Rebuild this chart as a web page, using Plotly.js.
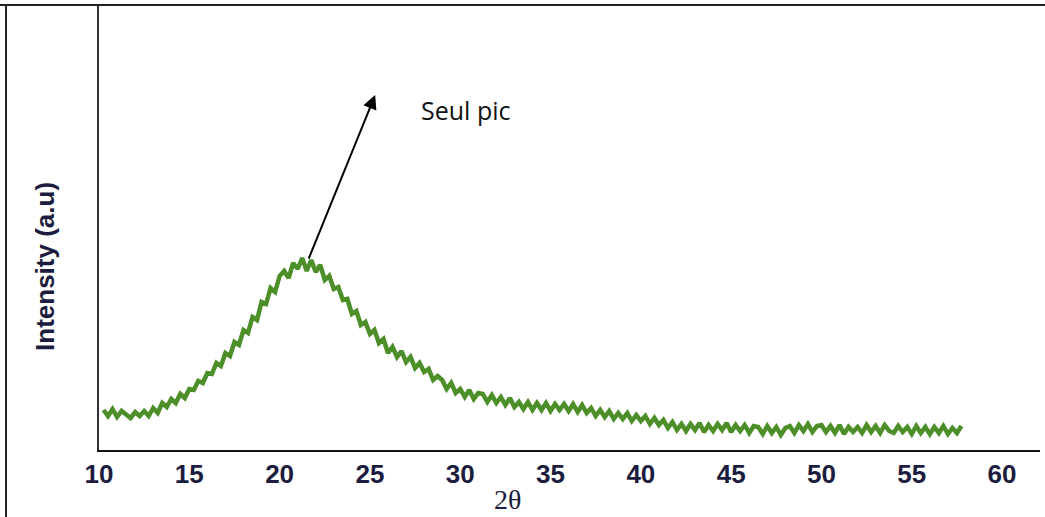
<!DOCTYPE html>
<html>
<head>
<meta charset="utf-8">
<script src="https://cdn.plot.ly/plotly-3.0.1.min.js"></script>
<style>
  html, body { margin: 0; padding: 0; background: #ffffff; }
  #chart { width: 1045px; height: 517px; }
</style>
</head>
<body>
<div id="chart"></div>
<script>
// ---- data (2θ scan, arbitrary intensity) ----
const angleStart = 10.25;   // first sampled 2θ (degrees)
const angleStep = 0.25;     // sampling step (degrees)
const intensity = [
  40,34,41,33,39,36,32,38,34,
  39,34,42,37,47,43,
  51,47,56,52,61,
  60,69,67,77,
  76,87,84,97,94,
  108,105,120,117,
  133,130,148,
  146,162,158,174,
  179,172,187,181,
  192,179,190,
  178,185,170,
  174,161,163,
  150,151,136,
  139,125,128,
  116,120,107,
  111,97,103,
  93,99,88,
  93,82,87,
  78,81,70,74,
  70,61,67,57,61,
  53,60,51,57,
  56,48,55,47,
  53,45,52,43,48,
  41,48,40,47,40,
  47,39,46,40,
  46,39,46,38,
  45,37,42,34,40,
  33,39,31,37,
  31,37,29,35,29,
  34,26,32,25,
  30,22,28,20,26,
  19,26,20,27,18,25,19,26,
  20,27,18,25,19,25,17,24,
  23,16,24,17,23,15,22,
  24,17,25,19,26,18,24,25,
  18,24,17,25,16,23,18,
  23,17,25,18,24,17,25,19,
  17,24,18,23,16,24,17,
  23,16,23,17,24,16,22,17,24
];
const xTickStart = 10;
const xTickStep = 5;
const xAxisTitle = "2θ";
const yAxisTitle = "Intensity (a.u)";
const noteText = "Seul pic";

const angles = intensity.map((_, i) => angleStart + i * angleStep);

const navy = "#1c1c3e";

const trace = {
  type: "scatter",
  mode: "lines",
  x: angles,
  y: intensity,
  line: { color: "rgb(76,142,40)", width: 4.5 },
  hoverinfo: "skip"
};

const layout = {
  width: 1045,
  height: 517,
  margin: { l: 99, r: 5, t: 5, b: 67 },
  paper_bgcolor: "#ffffff",
  plot_bgcolor: "#ffffff",
  showlegend: false,
  xaxis: {
    range: [10, 62.1],
    tick0: xTickStart,
    dtick: xTickStep,
    ticks: "",
    showgrid: false,
    zeroline: false,
    showline: true,
    linecolor: "#111111",
    linewidth: 2,
    tickfont: { family: "Liberation Sans, Arial, sans-serif", size: 26, color: navy, weight: "bold" },
    fixedrange: true
  },
  yaxis: {
    range: [0, 445],
    showticklabels: false,
    ticks: "",
    showgrid: false,
    zeroline: false,
    showline: true,
    linecolor: "#333333",
    linewidth: 2,
    fixedrange: true
  },
  shapes: [
    { type: "line", xref: "paper", yref: "paper", x0: -0.2, x1: 1.2, y0: 1, y1: 1,
      line: { color: "#222222", width: 2 } },
    { type: "line", xref: "paper", yref: "paper", x0: -0.0988, x1: -0.0988, y0: 1, y1: -0.3,
      line: { color: "#222222", width: 2 } }
  ],
  annotations: [
    { text: yAxisTitle, xref: "paper", yref: "paper", x: -0.0574, y: 0.4135,
      textangle: -90, showarrow: false, xanchor: "center", yanchor: "middle",
      font: { family: "Liberation Sans, Arial, sans-serif", size: 26, color: navy, weight: "bold" } },
    { text: xAxisTitle, xref: "paper", yref: "paper", x: 0.4346, y: -0.1115,
      showarrow: false, xanchor: "center", yanchor: "middle",
      font: { family: "Liberation Serif, Times New Roman, serif", size: 28, color: navy } },
    { text: noteText, xref: "x", yref: "y", x: 30.28, y: 340,
      showarrow: false, xanchor: "center", yanchor: "middle",
      font: { family: "Open Sans, Noto Sans, sans-serif", size: 25, color: "#111111" } },
    { text: "", xref: "x", yref: "y", x: 25.29, y: 355,
      axref: "x", ayref: "y", ax: 21.58, ay: 190,
      showarrow: true, arrowhead: 2, arrowsize: 1.4, arrowwidth: 2, arrowcolor: "#000000" }
  ]
};

Plotly.newPlot("chart", [trace], layout, { displayModeBar: false, staticPlot: true });
</script>
</body>
</html>
